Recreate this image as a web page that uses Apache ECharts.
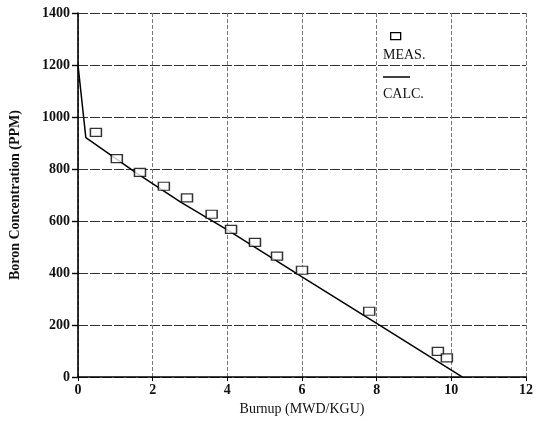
<!DOCTYPE html>
<html><head><meta charset="utf-8">
<script src="https://cdn.jsdelivr.net/npm/echarts@6/dist/echarts.min.js"></script>
<style>html,body{margin:0;padding:0;background:#fff}#c{width:537px;height:421px}</style>
</head><body><div id="c"></div>
<script>
const measX = [0.48, 1.04, 1.66, 2.30, 2.92, 3.58, 4.10, 4.74, 5.33, 6.00, 7.80, 9.64, 9.88];
const measY = [941, 840, 787, 734, 689, 626, 568, 518, 465, 411, 253, 99, 74];
const calcX = [0, 0.21, 1.55, 2.75, 4.0, 6.0, 8.0, 10.3];
const calcY = [1200, 921, 786, 673, 566, 385, 207, 0];
const xTicks = [0, 2, 4, 6, 8, 10, 12];
const yTicks = [0, 200, 400, 600, 800, 1000, 1200, 1400];

const font = '"Liberation Serif", "DejaVu Serif", serif';
const chart = echarts.init(document.getElementById('c'), null, {renderer: 'canvas'});
chart.setOption({
  animation: false,
  backgroundColor: '#fff',
  grid: {left: 77, right: 11, top: 13, bottom: 38, containLabel: false},
  xAxis: {
    type: 'value', min: xTicks[0], max: xTicks[xTicks.length-1], interval: 2,
    name: 'Burnup (MWD/KGU)', nameLocation: 'middle', nameGap: 24,
    nameTextStyle: {fontFamily: font, fontSize: 14, color: '#111'},
    axisLine: {lineStyle: {color: '#000', width: 1.6}},
    axisTick: {show: true, length: 4, inside: false, lineStyle: {color: '#000'}},
    axisLabel: {fontFamily: font, fontSize: 14, fontWeight: 'bold', color: '#111', margin: 6,
      formatter: v => String(v)},
    splitLine: {show: true, lineStyle: {color: '#777', width: 1, type: [4, 2]}}
  },
  yAxis: {
    type: 'value', min: yTicks[0], max: yTicks[yTicks.length-1], interval: 200,
    name: 'Boron Concentration (PPM)', nameLocation: 'middle', nameGap: 56,
    nameTextStyle: {fontFamily: font, fontSize: 14, fontWeight: 'bold', color: '#111'},
    axisLine: {lineStyle: {color: '#000', width: 1.6}},
    axisTick: {show: true, length: 6, inside: false, lineStyle: {color: '#000', width: 1.4}},
    axisLabel: {fontFamily: font, fontSize: 14, fontWeight: 'bold', color: '#111', margin: 8,
      formatter: v => String(v)},
    splitLine: {show: true, lineStyle: {color: '#333', width: 1.2, type: [10, 2]}}
  },
  series: [
    {
      name: 'CALC.', type: 'line', data: calcX.map((x, i) => [x, calcY[i]]),
      showSymbol: false, symbol: 'none', lineStyle: {color: '#000', width: 1.5}, z: 3
    },
    {
      name: 'MEAS.', type: 'scatter', data: measX.map((x, i) => [x, measY[i]]),
      symbol: 'rect', symbolSize: [11, 8],
      itemStyle: {color: '#fff', borderColor: '#000', borderWidth: 1.3}, z: 4
    }
  ],
  graphic: [
    {type: 'rect', left: 390, top: 32, shape: {width: 10, height: 7},
     style: {fill: '#fff', stroke: '#000', lineWidth: 1.3}},
    {type: 'text', left: 383, top: 48, style: {text: 'MEAS.', font: '14px ' + font, fill: '#111'}},
    {type: 'line', shape: {x1: 383, y1: 77, x2: 410, y2: 77}, style: {stroke: '#000', lineWidth: 1.5}},
    {type: 'text', left: 383, top: 87, style: {text: 'CALC.', font: '14px ' + font, fill: '#111'}}
  ]
});
</script></body></html>
